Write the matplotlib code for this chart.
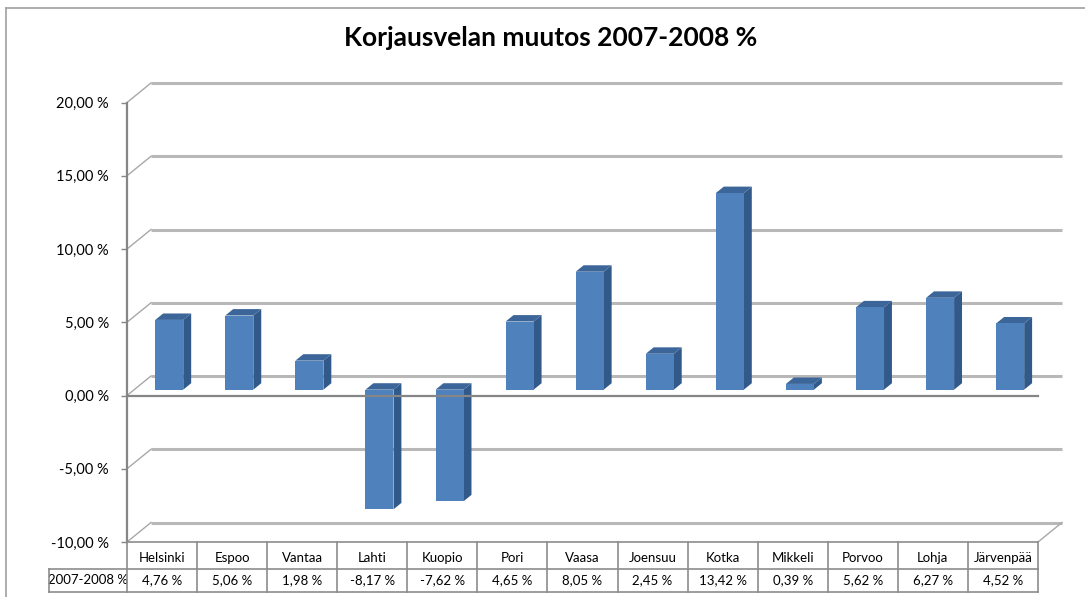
import matplotlib
matplotlib.use("Agg")
import matplotlib.pyplot as plt
from matplotlib.patches import Polygon, Rectangle
from matplotlib.lines import Line2D
from matplotlib.ticker import FuncFormatter

plt.rcParams['font.family'] = ['Lato', 'DejaVu Sans']

# data
cities = ['Helsinki', 'Espoo', 'Vantaa', 'Lahti', 'Kuopio', 'Pori', 'Vaasa',
          'Joensuu', 'Kotka', 'Mikkeli', 'Porvoo', 'Lohja', 'Järvenpää']
change = [4.76, 5.06, 1.98, -8.17, -7.62, 4.65, 8.05, 2.45, 13.42, 0.39, 5.62, 6.27, 4.52]
row_label = '2007-2008 %'
title = 'Korjausvelan muutos 2007-2008 %'
yticks = [-10, -5, 0, 5, 10, 15, 20]

W, H = 1085, 597
fig = plt.figure(figsize=(W / 100, H / 100), dpi=100)

# front plane of the fake 3d chart, in pixels
left, right, top, bottom = 127, 1038, 102.5, 542
ax = fig.add_axes([left / W, 1 - bottom / H, (right - left) / W, (bottom - top) / H])
n = len(cities)
ax.set_xlim(-0.5, n - 0.5)
ax.set_ylim(-10, 20)

px_x = (right - left) / n          # pixels per category
px_y = (bottom - top) / 30.0       # pixels per percent
DX = 24 / px_x                     # depth offset in data units
DY = 19.5 / px_y

grid_c = '#b8b8b8'
line_c = '#868686'

# back wall gridlines and the little diagonals at the left
for v in yticks:
    ax.add_line(Line2D([-0.5 + DX, n - 0.5 + DX], [v + DY, v + DY], color=grid_c,
                       lw=2.2, zorder=1, clip_on=False, solid_capstyle='butt'))
    ax.add_line(Line2D([-0.5, -0.5 + DX], [v, v + DY], color='#a8a8a8', lw=1.0,
                       zorder=1, clip_on=False))
ax.add_line(Line2D([n - 0.5, n - 0.5 + DX], [-10, -10 + DY], color='#a8a8a8', lw=1.0,
                   zorder=1, clip_on=False))

# bars
w = 0.4
t = 0.3      # where the bars sit in depth
d = 0.33     # bar depth
front_c, side_c, top_c = '#4F81BD', '#31598A', '#3C6699'
for i, v in enumerate(change):
    x0 = i - w / 2 + t * DX
    x1 = x0 + w
    y0 = t * DY
    y1 = v + t * DY
    ytop = max(y0, y1)
    ax.add_patch(Polygon([(x1, y0), (x1 + d * DX, y0 + d * DY), (x1 + d * DX, y1 + d * DY), (x1, y1)],
                         closed=True, facecolor=side_c, edgecolor='none', zorder=3))
    ax.add_patch(Polygon([(x0, ytop), (x1, ytop), (x1 + d * DX, ytop + d * DY), (x0 + d * DX, ytop + d * DY)],
                         closed=True, facecolor=top_c, edgecolor='none', zorder=3))
    ax.add_patch(Rectangle((x0, min(y0, y1)), w, abs(v), facecolor=front_c,
                           edgecolor='none', zorder=4))

# front zero line
ax.add_line(Line2D([-0.5, n - 0.5], [0, 0], color=line_c, lw=1.6, zorder=5, clip_on=False))

# axes styling
for s in ['top', 'right', 'bottom']:
    ax.spines[s].set_visible(False)
ax.spines['left'].set_color(line_c)
ax.spines['left'].set_linewidth(1.6)
ax.set_xticks([])
ax.set_yticks(yticks)
ax.yaxis.set_major_formatter(FuncFormatter(lambda v, p: f'{v:.2f} %'.replace('.', ',')))
ax.tick_params(axis='y', length=4, width=1, color=line_c, pad=9, labelsize=10.5)
ax.patch.set_alpha(0)

# data table under the chart
h1 = 27 / px_y
h2 = 23 / px_y
ya, yb, yc = -10, -10 - h1, -10 - h1 - h2
xl = -0.5 - 78 / px_x
tab_c = '#8c8c8c'
tkw = dict(color=tab_c, lw=1.2, clip_on=False, zorder=5)
ax.add_line(Line2D([-0.5, n - 0.5], [ya, ya], **tkw))
ax.add_line(Line2D([xl, n - 0.5], [yb, yb], **tkw))
ax.add_line(Line2D([xl, n - 0.5], [yc, yc], **tkw))
ax.add_line(Line2D([xl, xl], [yb, yc], **tkw))
for k in range(n + 1):
    ax.add_line(Line2D([k - 0.5, k - 0.5], [ya, yc], **tkw))
for i, (c, v) in enumerate(zip(cities, change)):
    ax.text(i, (ya + yb) / 2 - 0.2, c, ha='center', va='center', fontsize=9.5, clip_on=False)
    ax.text(i, (yb + yc) / 2, f'{v:.2f} %'.replace('.', ','), ha='center', va='center',
            fontsize=9.5, clip_on=False)
ax.text((xl - 0.5) / 2, (yb + yc) / 2, row_label, ha='center', va='center', fontsize=9.5,
        clip_on=False)

# outer chart frame (continues past the picture)
fig.add_artist(Line2D([6 / W, 6 / W], [0, 1 - 8 / H], color='#a0a0a0', lw=1.2))
fig.add_artist(Line2D([6 / W, 1], [1 - 8 / H, 1 - 8 / H], color='#a0a0a0', lw=1.2))

fig.text(551 / W, 1 - 46 / H, title, ha='center', va='baseline', fontsize=19, fontweight='bold')

fig.savefig('out.png', dpi=100)
